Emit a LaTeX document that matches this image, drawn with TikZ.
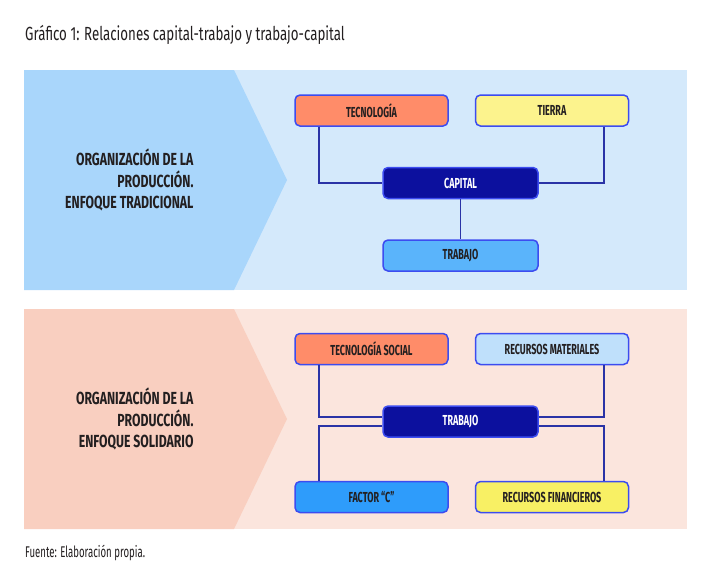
\documentclass[tikz,border=0pt]{standalone}
\usepackage{fontspec}
\setmainfont{Fira Sans}
\newfontfamily\condfont{Fira Sans}[FakeStretch=0.62]
\newfontfamily\widefont{Fira Sans}[FakeStretch=0.70]
\usetikzlibrary{positioning}

\definecolor{paneblue}{HTML}{D4E9FB}
\definecolor{chevblue}{HTML}{A9D6FB}
\definecolor{panerose}{HTML}{FBE5DD}
\definecolor{chevrose}{HTML}{F9CFC0}
\definecolor{boxline}{HTML}{3C4CF0}
\definecolor{salmon}{HTML}{FF8C69}
\definecolor{lemon}{HTML}{FCF38D}
\definecolor{navy}{HTML}{0C109E}
\definecolor{sky}{HTML}{5AB4FB}
\definecolor{pale}{HTML}{BFE0FB}
\definecolor{azure}{HTML}{2E9CFB}
\definecolor{yolk}{HTML}{F8F064}
\definecolor{linkline}{HTML}{2A33A6}
\definecolor{ink}{HTML}{231F20}

\tikzset{
  item/.style={draw=boxline, line width=1.5pt, rounded corners=5pt, minimum width=153pt, minimum height=31pt, inner sep=0pt, text=ink, font=\condfont\bfseries\fontsize{14.5}{16}\selectfont},
  hub/.style={item, fill=navy, text=white, minimum width=155pt},
  link/.style={draw=linkline, line width=1.6pt},
  heading/.style={anchor=east, align=right, text=ink, font=\widefont\bfseries\fontsize{17.5}{21.5}\selectfont},
  caption/.style={anchor=west, inner sep=0pt, text=ink, font=\condfont}
}

\begin{document}
\begin{tikzpicture}[x=1pt, y=-1pt]
  \useasboundingbox (0,0) rectangle (708,576);
  \fill[white] (0,0) rectangle (708,576);

  \node[caption, font=\widefont\fontsize{19}{21}\selectfont] (title) at (25,35) {Gráfico 1: Relaciones capital-trabajo y trabajo-capital};
  \node[caption, font=\condfont\fontsize{15.5}{17}\selectfont] (source) at (25,553) {Fuente: Elaboración propia.};

  \fill[paneblue] (24,70) rectangle (687,290);
  \fill[chevblue] (24,70) -- (234,70) -- (287,180) -- (234,290) -- (24,290) -- cycle;
  \fill[panerose] (24,309) rectangle (687,529);
  \fill[chevrose] (24,309) -- (234,309) -- (287,419) -- (234,529) -- (24,529) -- cycle;

  \node[heading] (htrad) at (197,180) {ORGANIZACIÓN DE LA\\PRODUCCIÓN.\\ENFOQUE TRADICIONAL};
  \node[heading] (hsol) at (197,419) {ORGANIZACIÓN DE LA\\PRODUCCIÓN.\\ENFOQUE SOLIDARIO};

  \node[item, fill=salmon] (itec) at (371.5,110.5) {TECNOLOGÍA};
  \node[item, fill=lemon, right=26pt of itec] (itie) {TIERRA};
  \node[hub] (icap) at (460.5,183) {CAPITAL};
  \node[item, fill=sky, minimum width=155pt, below=40pt of icap] (itrab) {TRABAJO};

  \node[item, fill=salmon] (itecs) at (371.5,349) {TECNOLOGÍA SOCIAL};
  \node[item, fill=pale, right=26pt of itecs] (irmat) {RECURSOS MATERIALES};
  \node[hub] (itrabs) at (460.5,421.5) {TRABAJO};
  \node[item, fill=azure] (ifac) at (371.5,497) {FACTOR “C”};
  \node[item, fill=yolk, right=26pt of ifac] (irfin) {RECURSOS FINANCIEROS};

  \draw[link] ([xshift=25pt]itec.south west) |- (icap.west);
  \draw[link] ([xshift=-25pt]itie.south east) |- (icap.east);
  \draw[link] (icap.south) -- (itrab.north);

  \draw[link] ([xshift=25pt]itecs.south west) |- ([yshift=4.5pt]itrabs.west);
  \draw[link] ([xshift=-25pt]irmat.south east) |- ([yshift=4.5pt]itrabs.east);
  \draw[link] ([xshift=25pt]ifac.north west) |- ([yshift=-4.5pt]itrabs.west);
  \draw[link] ([xshift=-25pt]irfin.north east) |- ([yshift=-4.5pt]itrabs.east);
\end{tikzpicture}
\end{document}
